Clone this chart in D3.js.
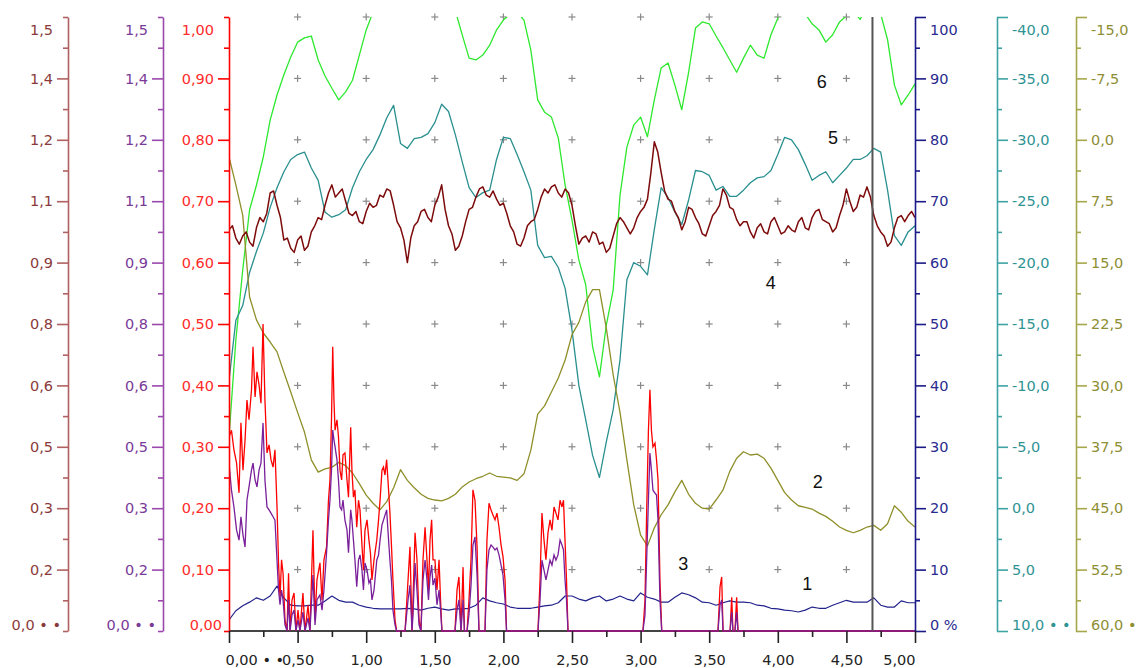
<!DOCTYPE html>
<html><head><meta charset="utf-8">
<script src="https://cdn.jsdelivr.net/npm/d3@7"></script>
<style>body{margin:0;background:#fff;}svg{display:block;}text{font-family:"DejaVu Sans",sans-serif;}</style>
</head><body><svg id="chart" width="1139" height="668"></svg>
<script>
// ---------- data ----------
const gridStep = 0.05;   // sample spacing of series 1,2,5,6 (x from 0 to 5)
const maroonStep = 0.025; // sample spacing of series 4
const xTickValues = [0,0.5,1,1.5,2,2.5,3,3.5,4,4.5,5];
const xTickLabels = ["0,00 \u2022 \u2022","0,50","1,00","1,50","2,00","2,50","3,00","3,50","4,00","4,50","5,00"];

const axisATicks = [0,0.15,0.3,0.45,0.6,0.75,0.9,1.05,1.2,1.35,1.5];
const axisALabels = ["0,0 \u2022 \u2022","0,2","0,3","0,5","0,6","0,8","0,9","1,1","1,2","1,4","1,5"];
const axisBTicks = axisATicks;
const axisBLabels = axisALabels;
const axisCTicks = [0,0.1,0.2,0.3,0.4,0.5,0.6,0.7,0.8,0.9,1.0];
const axisCLabels = ["0,00","0,10","0,20","0,30","0,40","0,50","0,60","0,70","0,80","0,90","1,00"];
const axisDTicks = [0,10,20,30,40,50,60,70,80,90,100];
const axisDLabels = ["0 %","10","20","30","40","50","60","70","80","90","100"];
const axisETicks = [10,5,0,-5,-10,-15,-20,-25,-30,-35,-40];
const axisELabels = ["10,0 \u2022 \u2022","5,0","0,0","-5,0","-10,0","-15,0","-20,0","-25,0","-30,0","-35,0","-40,0"];
const axisFTicks = [60,52.5,45,37.5,30,22.5,15,7.5,0,-7.5,-15];
const axisFLabels = ["60,0 \u2022","52,5","45,0","37,5","30,0","22,5","15,0","7,5","0,0","-7,5","-15,0"];

// series 1 (navy, %)
const series1 = [1.8,3.3,4.1,4.7,5.4,5.0,5.7,7.3,5.4,4.2,
 4.1,4.1,4.2,4.2,4.9,5.7,5.0,4.7,4.7,4.2,
 3.9,3.7,3.6,3.6,3.6,3.6,3.7,3.6,3.4,3.7,
 3.9,3.6,3.4,3.6,3.6,3.7,4.2,5.4,4.9,4.6,
 4.4,3.9,3.7,3.7,3.7,3.9,4.1,4.2,4.6,5.7,
 5.7,5.2,4.9,5.4,5.7,4.9,5.2,5.7,5.2,4.9,
 6.2,5.5,5.2,4.7,4.7,5.5,6.2,5.9,5.4,4.7,
 4.6,4.2,4.6,4.9,4.7,4.7,4.6,4.2,4.1,3.7,
 3.6,3.4,3.3,3.1,3.4,3.9,3.7,3.7,4.2,4.6,
 5.0,4.7,4.7,4.7,5.4,4.2,3.9,3.9,4.9,4.6,4.6];
// series 2 (olive, inverted axis)
const series2 = [2.1,5.5,9.2,19.2,22.0,23.6,24.7,25.9,28.4,30.8,
 33.3,35.7,39.1,40.6,40.2,40.0,39.4,39.8,40.7,42.0,
 43.4,44.4,45.2,44.2,42.5,40.3,41.6,42.5,43.3,43.8,
 44.0,44.1,43.8,43.3,42.4,41.8,41.4,41.1,40.7,41.1,
 41.2,41.3,41.6,40.8,37.9,33.5,32.5,30.8,29.1,26.9,
 23.8,22.3,19.8,18.3,18.3,23.0,28.7,33.3,39.1,44.6,
 48.3,49.6,47.4,45.8,44.6,43.0,41.6,43.3,44.4,45.0,
 45.1,44.0,42.8,40.5,38.9,38.1,38.5,38.4,38.9,40.1,
 41.6,43.1,44.0,44.7,44.9,45.1,45.6,46.0,46.6,47.3,
 47.7,48.0,47.7,47.3,47.1,47.7,46.9,44.7,45.5,46.6,47.3];
// series 3 (red + purple, spiky, irregular x)
const spikeX = [0,0.018,0.036,0.055,0.073,0.087,0.102,0.117,0.131,0.146,
 0.164,0.175,0.190,0.204,0.219,0.233,0.248,0.262,0.277,0.292,
 0.306,0.321,0.335,0.350,0.361,0.372,0.383,0.394,0.408,0.423,
 0.434,0.445,0.459,0.474,0.488,0.503,0.517,0.539,0.554,0.576,
 0.590,0.612,0.627,0.641,0.663,0.678,0.692,0.711,0.725,0.736,
 0.747,0.756,0.765,0.773,0.787,0.798,0.809,0.821,0.831,0.845,
 0.860,0.871,0.887,0.896,0.907,0.918,0.931,0.944,0.955,0.969,
 0.980,0.991,1.006,1.020,1.031,1.042,1.057,1.077,1.090,1.101,
 1.115,1.126,1.137,1.149,1.163,1.173,1.184,1.195,1.210,1.222,
 1.283,1.305,1.319,1.334,1.341,1.356,1.370,1.385,1.399,1.414,
 1.429,1.443,1.454,1.465,1.477,1.487,1.501,1.516,1.531,1.542,
 1.552,1.647,1.662,1.676,1.691,1.706,1.716,1.735,1.749,1.764,
 1.778,1.793,1.808,1.822,1.866,1.880,1.895,1.910,1.924,1.939,
 1.953,1.968,1.983,1.997,2.012,2.023,2.252,2.267,2.281,2.296,
 2.310,2.325,2.340,2.354,2.369,2.383,2.398,2.413,2.427,2.438,
 2.449,2.460,2.471,3.017,3.032,3.044,3.057,3.068,3.079,3.090,
 3.105,3.116,3.127,3.141,3.154,3.564,3.579,3.591,3.601,3.652,
 3.664,3.673,3.688,3.700,3.710,5.0];
const series3Red = [0.316,0.327,0.295,0.274,0.225,0.339,0.262,0.311,0.376,0.344,
 0.393,0.463,0.381,0.422,0.401,0.371,0.50,0.376,0.290,0.303,
 0.279,0.267,0.295,0.202,0.111,0.055,0.116,0.094,0.018,0,
 0.094,0,0.050,0.062,0,0.034,0,0.062,0,0.042,
 0,0.164,0.018,0.083,0.111,0.050,0.116,0.137,0.213,0.246,
 0.344,0.463,0.376,0.327,0.344,0.316,0.262,0.246,0.287,0.290,
 0.246,0.218,0.332,0.262,0.218,0.230,0.169,0.213,0.197,0.140,
 0.099,0.164,0.181,0.148,0.127,0.083,0.116,0.148,0.181,0.213,
 0.262,0.267,0.254,0.279,0.230,0.192,0.140,0.083,0.018,0,
 0,0.083,0.137,0,0.050,0.160,0.116,0.018,0,0.116,
 0.169,0.116,0.067,0.148,0.181,0.116,0.116,0.067,0.116,0.050,
 0,0,0.067,0.088,0,0.104,0,0,0.050,0.116,
 0.230,0.213,0.137,0,0,0.148,0.208,0.197,0.189,0.181,
 0.192,0.169,0.140,0.121,0.083,0,0,0.083,0.192,0.148,
 0.116,0.160,0.181,0.164,0.202,0.192,0.181,0.213,0.202,0.213,
 0.148,0.083,0,0,0.050,0.192,0.327,0.393,0.327,0.300,
 0.306,0.279,0.246,0.083,0,0,0.072,0.088,0,0,
 0.055,0,0,0.055,0,0];
const series3Purple = [0.410,0.344,0.303,0.247,0.222,0.279,0.235,0.205,0.320,0.352,
 0.393,0.410,0.369,0.352,0.393,0.410,0.508,0.369,0.303,0.296,
 0.288,0.279,0.271,0.173,0.100,0.064,0.100,0.076,0.015,0,
 0.076,0,0.039,0.051,0,0.027,0,0.046,0,0.032,
 0,0.137,0.015,0.076,0.088,0.051,0.100,0.191,0.271,0.320,
 0.393,0.491,0.467,0.450,0.418,0.369,0.303,0.296,0.320,0.271,
 0.247,0.191,0.296,0.271,0.222,0.173,0.108,0.173,0.186,0.149,
 0.100,0.166,0.149,0.117,0.125,0.076,0.100,0.173,0.186,0.222,
 0.259,0.271,0.283,0.296,0.222,0.173,0.125,0.051,0.015,0,
 0,0.076,0.112,0,0.039,0.166,0.100,0.015,0,0.125,
 0.173,0.125,0.076,0.132,0.161,0.112,0.129,0.064,0.100,0.051,
 0,0,0.051,0.076,0,0.076,0,0,0.039,0.112,
 0.210,0.230,0.137,0,0,0.149,0.198,0.210,0.205,0.198,
 0.203,0.186,0.161,0.137,0.076,0,0,0.076,0.173,0.149,
 0.125,0.149,0.173,0.161,0.186,0.173,0.186,0.222,0.210,0.198,
 0.125,0.076,0,0,0.039,0.173,0.320,0.435,0.393,0.344,
 0.337,0.332,0.271,0.076,0,0,0.064,0.076,0,0,
 0.046,0,0,0.046,0,0];
// series 4 (maroon, noisy)
const series4 = [0.98,0.99,0.96,0.945,0.965,0.975,0.95,0.94,0.985,1.01,
 1.0,1.02,1.07,1.075,1.04,1.01,0.955,0.96,0.935,0.925,
 0.955,0.965,0.93,0.94,0.975,0.99,1.01,1.005,1.04,1.07,
 1.09,1.06,1.07,1.08,1.05,1.02,1.015,1.025,1.0,0.995,
 1.025,1.045,1.035,1.04,1.065,1.06,1.08,1.075,1.04,1.0,
 0.985,0.955,0.90,0.96,0.99,1.0,1.025,1.03,1.01,1.0,
 1.04,1.06,1.09,1.03,0.99,0.97,0.93,0.94,0.965,1.0,
 1.03,1.035,1.06,1.08,1.085,1.065,1.06,1.075,1.055,1.04,
 1.045,1.02,0.99,0.975,0.945,0.94,0.96,0.99,1.0,1.005,
 1.03,1.06,1.08,1.07,1.085,1.09,1.07,1.06,1.08,1.07,
 1.04,0.99,0.945,0.96,0.965,0.95,0.975,0.97,0.945,0.95,
 0.925,0.935,0.965,0.995,1.01,1.0,0.985,0.97,0.985,1.01,
 1.025,1.035,1.055,1.12,1.195,1.17,1.12,1.075,1.055,1.05,
 1.025,1.01,0.98,1.0,1.035,1.03,1.01,0.995,0.97,0.965,
 0.99,1.015,1.025,1.04,1.08,1.065,1.035,1.03,1.005,0.99,
 1.0,1.0,0.975,0.96,0.985,0.995,0.975,0.97,1.0,1.01,
 0.99,0.97,0.975,0.99,0.98,0.975,1.0,1.01,0.985,0.98,
 1.01,1.025,1.03,1.005,1.0,0.995,0.975,0.985,1.015,1.04,
 1.08,1.05,1.025,1.035,1.065,1.06,1.085,1.06,1.015,0.99,
 0.975,0.965,0.94,0.95,0.985,1.01,1.015,1.0,1.015,1.025,
 1.01];
// series 5 (teal, inverted axis)
const series5 = [-10.4,-15.3,-16.5,-19.2,-20.9,-22.4,-24.5,-26.1,-27.4,-28.4,
 -28.8,-29.0,-27.7,-26.7,-24.1,-23.7,-23.9,-24.3,-26.1,-27.4,
 -28.4,-29.2,-30.4,-31.8,-32.8,-29.7,-29.3,-30.1,-30.2,-30.5,
 -31.4,-32.9,-32.3,-30.4,-28.2,-26.1,-25.3,-25.7,-25.9,-28.4,
 -30.2,-30.1,-28.8,-27.4,-25.9,-21.4,-20.4,-20.5,-19.6,-17.9,
 -14.5,-10.0,-7.2,-4.3,-2.5,-5.4,-8.0,-12.1,-18.6,-20.0,
 -19.7,-19.0,-22.7,-26.1,-25.3,-24.1,-23.1,-25.1,-27.5,-27.4,
 -27.1,-25.9,-26.2,-25.4,-25.4,-25.9,-26.5,-26.9,-27.0,-27.5,
 -28.8,-30.2,-30.0,-29.2,-28.0,-26.7,-27.1,-27.4,-26.5,-27.1,
 -27.7,-28.4,-28.4,-28.7,-29.3,-29.0,-25.9,-22.2,-21.4,-22.5,-23.0];
// series 6 (green, % scale, runs off the top)
const series6 = [31.6,47.4,58.8,68.6,72.6,77.2,83.2,87.3,90.6,93.5,
 95.9,96.6,96.9,93.0,90.4,88.4,86.5,87.8,89.7,93.8,
 97.9,100.8,105,108,110,111,110,110,109,108,
 106,104,102,101,97.1,93.3,93.0,93.8,95.4,97.9,
 99.5,100.5,100.8,99.5,94.6,86.5,84.5,83.7,80.3,72.6,
 66.9,60.4,56.4,46.3,41.4,49.8,55.5,71.0,78.8,82.4,
 83.7,80.5,86.5,91.7,92.5,88.9,84.9,91.0,98.2,99.2,
 98.9,96.9,95.0,93.0,91.0,93.3,95.4,93.8,93.3,97.1,
 99.8,103,104,103,100.5,98.9,97.9,95.9,97.1,99.2,
 100.2,101,99.6,102,104,100.5,96.3,88.9,85.7,87.3,89.1];

const cursorX = 4.69;
const curveLabels = ["1","2","3","4","5","6"];
const curveLabelX = [4.215,4.291,3.311,3.948,4.402,4.320];
const curveLabelY = [7.65,24.3,10.9,56.6,80.3,89.4]; // in % units

// ---------- layout ----------
const svg = d3.select("#chart");
const plotTop = 17, plotBottom = 631, plotLeft = 229, plotRight = 915;
const x = d3.scaleLinear().domain([0,5]).range([plotLeft,plotRight]);
const yA = d3.scaleLinear().domain([0,1.5]).range([plotBottom,plotTop]);
const yB = d3.scaleLinear().domain([0,1.5]).range([plotBottom,plotTop]);
const yC = d3.scaleLinear().domain([0,1]).range([plotBottom,plotTop]);
const yD = d3.scaleLinear().domain([0,100]).range([plotBottom,plotTop]);
const yE = d3.scaleLinear().domain([10,-40]).range([plotBottom,plotTop]);
const yF = d3.scaleLinear().domain([60,-15]).range([plotBottom,plotTop]);

const colors = {
  A:{line:"#b06060",text:"#8b3a3a"},
  B:{line:"#9a48ac",text:"#7a3a98"},
  C:{line:"#ff0000",text:"#ff2a2a"},
  D:{line:"#1a1a88",text:"#2a2a8e"},
  E:{line:"#3fa3a3",text:"#2f9393"},
  F:{line:"#a6a64a",text:"#8e8e34"}
};

svg.append("defs").append("clipPath").attr("id","plotclip")
  .append("rect").attr("x",plotLeft).attr("y",plotTop).attr("width",plotRight-plotLeft).attr("height",plotBottom-plotTop+2);

// grid "+" markers
const gridXs = xTickValues.filter(v=>v>0 && v<5);
const gridYs = axisCTicks.filter(v=>v>0);
const gm = svg.append("g");
gridXs.forEach(gx=>gridYs.forEach(gy=>{
  const cx=x(gx), cy=yC(gy);
  gm.append("line").attr("x1",cx-3.5).attr("x2",cx+3.5).attr("y1",cy).attr("y2",cy).attr("stroke","#8a8a8a").attr("stroke-width",1.2);
  gm.append("line").attr("x1",cx).attr("x2",cx).attr("y1",cy-3.5).attr("y2",cy+3.5).attr("stroke","#8a8a8a").attr("stroke-width",1.2);
}));

svg.append("line").attr("x1",plotLeft).attr("x2",plotRight).attr("y1",plotBottom).attr("y2",plotBottom).attr("stroke","#444").attr("stroke-width",2);

// series
const plot = svg.append("g").attr("clip-path","url(#plotclip)");
function stepLine(arr, step, yScale, color, w){
  const line = d3.line().x((d,i)=>x(i*step)).y(d=>yScale(d));
  plot.append("path").datum(arr).attr("d",line).attr("fill","none").attr("stroke",color).attr("stroke-width",w).attr("stroke-linejoin","round");
}
stepLine(series6, gridStep, yD, "#2ee82e", 1.3);
stepLine(series5, gridStep, yE, "#2a8f8f", 1.3);
stepLine(series2, gridStep, yF, "#8f8f2a", 1.3);
stepLine(series4, maroonStep, yA, "#7d0a0a", 1.5);
stepLine(series1, gridStep, yD, "#22228c", 1.2);
const spikeLine = (yScale)=>d3.line().x((d,i)=>x(spikeX[i])).y(d=>yScale(d));
plot.append("path").datum(series3Red).attr("d",spikeLine(yC)).attr("fill","none").attr("stroke","#ff0000").attr("stroke-width",1.3);
plot.append("path").datum(series3Purple).attr("d",spikeLine(yB)).attr("fill","none").attr("stroke","#7a1f9a").attr("stroke-width",1.3);

svg.append("line").attr("x1",x(cursorX)).attr("x2",x(cursorX)).attr("y1",plotTop).attr("y2",plotBottom).attr("stroke","#555").attr("stroke-width",2);

svg.append("g").selectAll("text").data(curveLabels).join("text")
  .attr("x",(d,i)=>x(curveLabelX[i])).attr("y",(d,i)=>yD(curveLabelY[i]))
  .attr("text-anchor","middle").attr("dominant-baseline","central")
  .style("font-family","'Liberation Sans',Arial,sans-serif").style("font-size","18px").attr("fill","#111")
  .text(d=>d);

// y axes
function yAxis(xPos, scale, ticks, labels, side, col){
  const g = svg.append("g").attr("transform",`translate(${xPos},0)`);
  const mk = side==="left" ? d3.axisLeft : d3.axisRight;
  const ax = mk(scale).tickValues(ticks).tickFormat((d,i)=>labels[i]).tickSize(11).tickSizeOuter(0).tickPadding(4);
  g.call(ax);
  g.select(".domain").attr("stroke",col.line).attr("stroke-width",1.6);
  g.selectAll(".tick line").attr("stroke",col.line).attr("stroke-width",1.6);
  g.selectAll(".tick text").attr("fill",col.text).style("font-size","14.5px").style("font-family","'DejaVu Sans',sans-serif");
  const n = ticks.length;
  g.selectAll(".tick").each(function(d,i){
    const t = d3.select(this).select("text");
    const l = d3.select(this).select("line");
    if(i===0){ t.attr("dy","-0.1em"); }
    if(i===n-1){ t.attr("dy","1.2em"); }
    if(side==="left" && (i===0 || i===n-1)){
      l.attr("x2",-5);
      if(i===0) t.attr("x",-7);
    }
  });
  const mids = ticks.slice(0,-1).map((t,i)=>(t+ticks[i+1])/2);
  const m = g.append("g").call(mk(scale).tickValues(mids).tickFormat("").tickSize(5).tickSizeOuter(0));
  m.select(".domain").remove();
  m.selectAll(".tick line").attr("stroke",col.line).attr("stroke-width",1.6);
  return g;
}
yAxis(68, yA, axisATicks, axisALabels, "left", colors.A);
yAxis(163, yB, axisBTicks, axisBLabels, "left", colors.B);
yAxis(229, yC, axisCTicks, axisCLabels, "left", colors.C);
yAxis(915, yD, axisDTicks, axisDLabels, "right", colors.D);
yAxis(997, yE, axisETicks, axisELabels, "right", colors.E);
yAxis(1076, yF, axisFTicks, axisFLabels, "right", colors.F);

// x axis
const gx = svg.append("g").attr("transform",`translate(0,${plotBottom})`);
gx.call(d3.axisBottom(x).tickValues(xTickValues).tickFormat((d,i)=>xTickLabels[i]).tickSize(12).tickSizeOuter(0).tickPadding(12));
gx.select(".domain").remove();
gx.selectAll(".tick line").attr("stroke","#222").attr("stroke-width",1.6);
gx.selectAll(".tick text").attr("fill","#222").style("font-size","14.5px").style("font-family","'DejaVu Sans',sans-serif");
gx.selectAll(".tick").each(function(d,i){
  const t = d3.select(this).select("text");
  if(i===0) t.attr("text-anchor","start").attr("x",-4);
  if(i===xTickValues.length-1) t.attr("text-anchor","end");
});
const xMinor = xTickValues.slice(0,-1).map((t,i)=>(t+xTickValues[i+1])/2);
const gxm = svg.append("g").attr("transform",`translate(0,${plotBottom})`)
  .call(d3.axisBottom(x).tickValues(xMinor).tickFormat("").tickSize(6).tickSizeOuter(0));
gxm.select(".domain").remove();
gxm.selectAll(".tick line").attr("stroke","#222").attr("stroke-width",1.6);
</script></body></html>
